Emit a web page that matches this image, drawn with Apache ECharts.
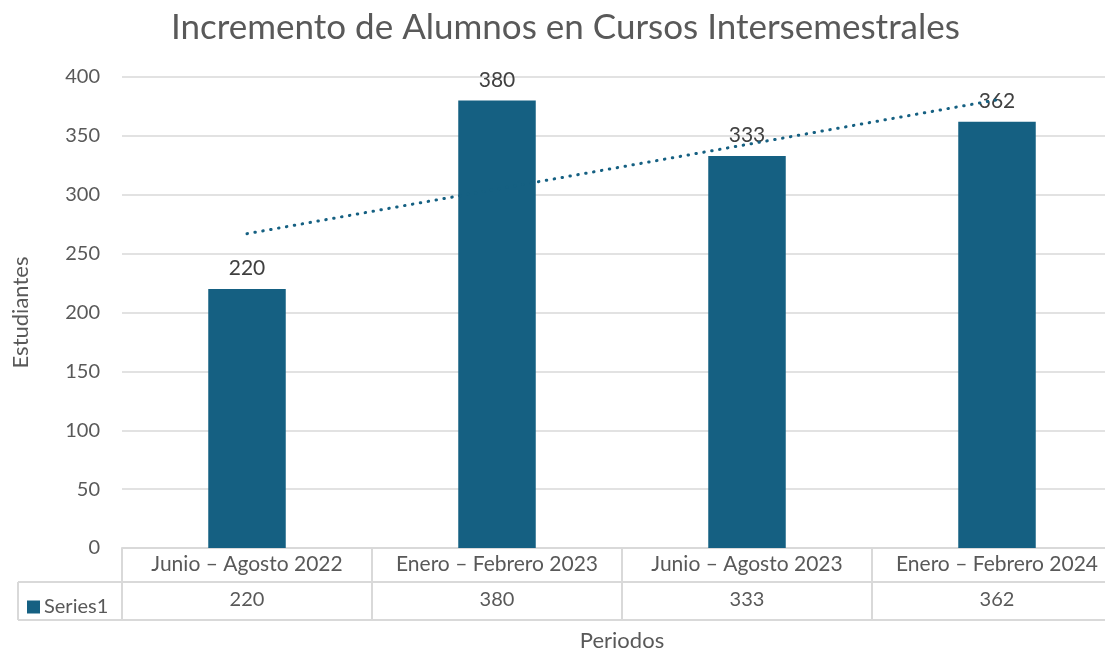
<!DOCTYPE html>
<html><head><meta charset="utf-8">
<script src="https://cdn.jsdelivr.net/npm/echarts@6/dist/echarts.min.js"></script>
<style>html,body{margin:0;padding:0;background:#fff}#c{width:1105px;height:652px}</style>
</head><body><div id="c"></div>
<script>
const categories = ['Junio – Agosto 2022','Enero – Febrero 2023','Junio – Agosto 2023','Enero – Febrero 2024'];
const seriesName = 'Series1';
const values = [220, 380, 333, 362];
const yTicks = {min: 0, max: 400, interval: 50};

// linear trendline (least squares) from the values, like the spreadsheet's trendline
const n = values.length;
const xs = values.map((_, i) => i + 1);
const mx = xs.reduce((a, b) => a + b, 0) / n;
const my = values.reduce((a, b) => a + b, 0) / n;
let sxy = 0, sxx = 0;
xs.forEach((x, i) => { sxy += (x - mx) * (values[i] - my); sxx += (x - mx) * (x - mx); });
const slope = sxy / sxx, icpt = my - slope * mx;
const trend = xs.map(x => +(icpt + slope * x).toFixed(2));

const FONT = 'Lato';
const TXT = '#595959';
const BORDER = '#d9d9d9';
const BAR = '#156082';
const G = {left: 122, top: 77, bottom: 104, right: -17};
const chart = echarts.init(document.getElementById('c'));
const rowH = 34, tableH = 72;
const axisY = 652 - G.bottom;
chart.setOption({
  animation: false,
  textStyle: {fontFamily: FONT},
  title: {text: 'Incremento de Alumnos en Cursos Intersemestrales', left: 166, top: 5,
    textStyle: {fontFamily: FONT, fontSize: 35, fontWeight: 'normal', color: TXT}},
  legend: {data: [{name: seriesName, icon: 'rect'}], left: 22, top: axisY + rowH + 10, itemWidth: 13, itemHeight: 13, itemGap: 4,
    textStyle: {fontFamily: FONT, fontSize: 20, color: TXT, padding: [0,0,0,-1]}, selectedMode: false},
  grid: Object.assign({outerBoundsMode: 'none', containLabel: false}, G),
  xAxis: [
    {type: 'category', data: categories, position: 'bottom',
      axisLine: {show: true, lineStyle: {color: BORDER, width: 2}},
      axisTick: {show: true, length: tableH, lineStyle: {color: BORDER, width: 2}},
      axisLabel: {fontFamily: FONT, fontSize: 21, color: TXT, margin: 6, interval: 0}},
    {type: 'category', data: values.map(String), position: 'bottom', offset: rowH,
      axisLine: {show: true, lineStyle: {color: BORDER, width: 2}},
      axisTick: {show: false},
      axisLabel: {fontFamily: FONT, fontSize: 20, color: TXT, margin: 8, interval: 0}},
    {type: 'category', data: categories, position: 'bottom', offset: tableH,
      axisLine: {show: true, lineStyle: {color: BORDER, width: 2}},
      axisTick: {show: false}, axisLabel: {show: false},
      name: 'Periodos', nameLocation: 'middle', nameGap: 10,
      nameTextStyle: {fontFamily: FONT, fontSize: 22, color: TXT, verticalAlign: 'top'}}
  ],
  yAxis: {type: 'value', min: yTicks.min, max: yTicks.max, interval: yTicks.interval,
    axisLine: {show: false}, axisTick: {show: false},
    splitLine: {lineStyle: {color: BORDER, width: 1.5}},
    axisLabel: {fontFamily: FONT, fontSize: 20, color: TXT, margin: 22},
    name: 'Estudiantes', nameLocation: 'middle', nameGap: 90, nameRotate: 90,
    nameTextStyle: {fontFamily: FONT, fontSize: 22, color: TXT}},
  series: [
    {name: seriesName, type: 'bar', data: values, barWidth: '31%', itemStyle: {color: BAR},
      label: {show: true, position: 'top', distance: 10, fontFamily: FONT, fontSize: 21, color: '#404040'}},
    {name: 'trend', type: 'line', data: trend, symbol: 'none', silent: true, z: 5,
      lineStyle: {color: BAR, width: 3, type: [0.5, 7.5], cap: 'round'}}
  ],
  graphic: [
    {type: 'line', shape: {x1: 18, y1: axisY + rowH, x2: G.left, y2: axisY + rowH}, style: {stroke: BORDER, lineWidth: 2}},
    {type: 'line', shape: {x1: 18, y1: axisY + tableH, x2: G.left, y2: axisY + tableH}, style: {stroke: BORDER, lineWidth: 2}},
    {type: 'line', shape: {x1: 18, y1: axisY + rowH, x2: 18, y2: axisY + tableH}, style: {stroke: BORDER, lineWidth: 2}}
  ]
});
</script></body></html>
